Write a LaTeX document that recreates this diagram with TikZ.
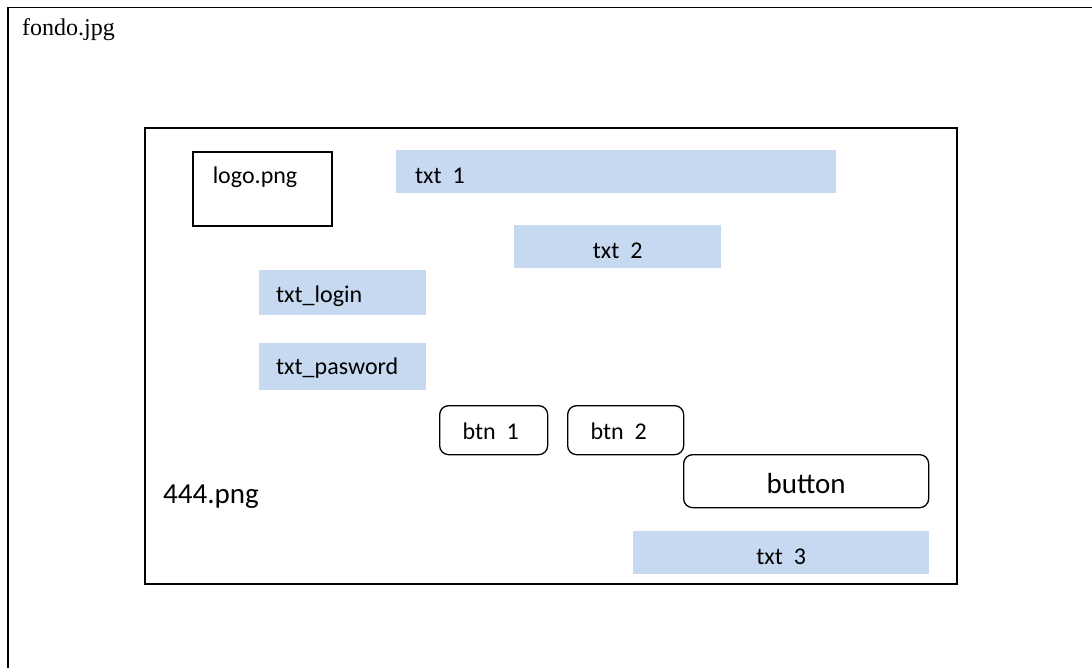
\documentclass[tikz,border=0pt]{standalone}
\usepackage{fontspec}
\setmainfont{Liberation Serif}
\newfontfamily\calibri{Carlito}
\usetikzlibrary{positioning}
\definecolor{fieldblue}{RGB}{198,217,241}

\begin{document}
\begin{tikzpicture}[x=1pt,y=-1pt,inner sep=0pt]
  \clip (0,0) rectangle (1092,667);

\tikzset{lbl/.style={font=\calibri\fontsize{24}{28}\selectfont}}
\tikzset{field/.style={lbl,fill=fieldblue,anchor=north west,text height=23pt,text depth=0pt}}
\tikzset{bx/.style={lbl,draw,line width=1.5pt,anchor=north west}}
\tikzset{btnbox/.style={lbl,draw,line width=1.3pt,rounded corners=9pt,anchor=north west,text height=19pt,text depth=0pt}}

  % background and screen frame
  \coordinate (topR) at (1100,7.5);
  \coordinate (botL) at (8,680);
  \draw[line width=1.3pt] (topR) -| (botL);
  \node[anchor=base west,font=\fontsize{24}{28}\selectfont] (fondo) at (22,35) {fondo.jpg};
  \node[bx,minimum width=812pt,minimum height=456pt] (screen) at (144,127) {};
  \node[lbl,anchor=base west,font=\calibri\fontsize{29}{34}\selectfont] (img) at (163,503) {444.png};

  % logo and text fields
  \node[bx,minimum height=74pt,text width=99pt,inner xsep=20pt,align=flush left,
        text height=16pt,text depth=26pt] (logo) at (192,151) {logo.png};
  \node[field,minimum height=43pt,text width=402pt,inner xsep=19pt,align=flush left] (t1) at (396,150) {txt\ \ 1};
  \node[field,minimum width=207pt,minimum height=43pt] (t2) at (514,225) {txt\ \ 2};
  \node[field,minimum height=45pt,text width=133pt,inner xsep=17pt,align=flush left,text height=19pt] (login) at (259,270) {txt\_login};
  \node[field,minimum height=47pt,text width=133pt,inner xsep=17pt,align=flush left,text height=15pt] (pass) at (259,343) {txt\_pasword};
  \node[field,minimum width=296pt,minimum height=43pt] (t3) at (633,531) {txt\ \ 3};

  % buttons
  \node[btnbox,minimum height=49pt,text width=62pt,inner xsep=23pt,align=flush left] (b1) at (439,405) {btn\ \ 1};
  \node[btnbox,minimum height=49pt,text width=70pt,inner xsep=23pt,align=flush left] (b2) at (567,405) {btn\ \ 2};
  \node[btnbox,minimum width=245pt,minimum height=53pt,font=\calibri\fontsize{29}{34}\selectfont,
        text height=25pt] (btn) at (683,454) {button};

\end{tikzpicture}
\end{document}
